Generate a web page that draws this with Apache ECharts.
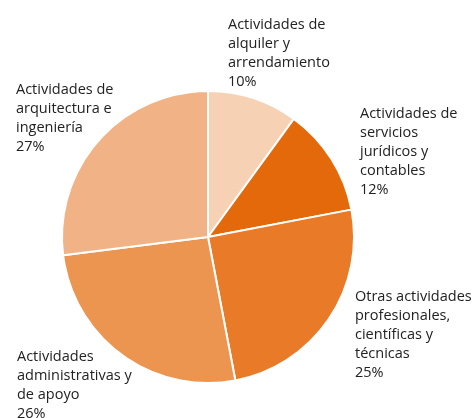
<!DOCTYPE html>
<html>
<head>
<meta charset="utf-8">
<script src="https://cdn.jsdelivr.net/npm/echarts@6/dist/echarts.min.js"></script>
<style>
  html, body { margin: 0; padding: 0; background: #fff; }
  #chart { width: 474px; height: 418px; }
</style>
</head>
<body>
<div id="chart"></div>
<script>
  // data
  const categories = [
    'Actividades de\nalquiler y\narrendamiento',
    'Actividades de\nservicios\njurídicos y\ncontables',
    'Otras actividades\nprofesionales,\ncientíficas y\ntécnicas',
    'Actividades\nadministrativas y\nde apoyo',
    'Actividades de\narquitectura e\ningeniería'
  ];
  const shares = [10, 12, 25, 26, 27];

  const colors = ['#f6d1b3', '#e4690b', '#e97a27', '#ec9551', '#f1b385'];
  // label top-left corners
  const labelPos = [[228, 15], [360, 104], [355, 287], [17, 347], [16, 80]];

  const chart = echarts.init(document.getElementById('chart'));
  chart.setOption({
    animation: false,
    series: [{
      type: 'pie',
      center: [208, 237],
      radius: 146,
      startAngle: 90,
      clockwise: true,
      data: categories.map((c, i) => ({
        name: c,
        value: shares[i],
        itemStyle: { color: colors[i] }
      })),
      itemStyle: { borderColor: '#fff', borderWidth: 2 },
      label: {
        show: true,
        position: 'outside',
        formatter: '{b}\n{c}%',
        fontFamily: 'Open Sans',
        fontSize: 14.5,
        lineHeight: 19,
        color: '#222',
        overflow: 'none'
      },
      labelLine: { show: false },
      labelLayout: function (params) {
        const p = labelPos[params.dataIndex];
        return { x: p[0], y: p[1], align: 'left', verticalAlign: 'top' };
      },
      emphasis: { disabled: true }
    }]
  });
</script>
</body>
</html>
